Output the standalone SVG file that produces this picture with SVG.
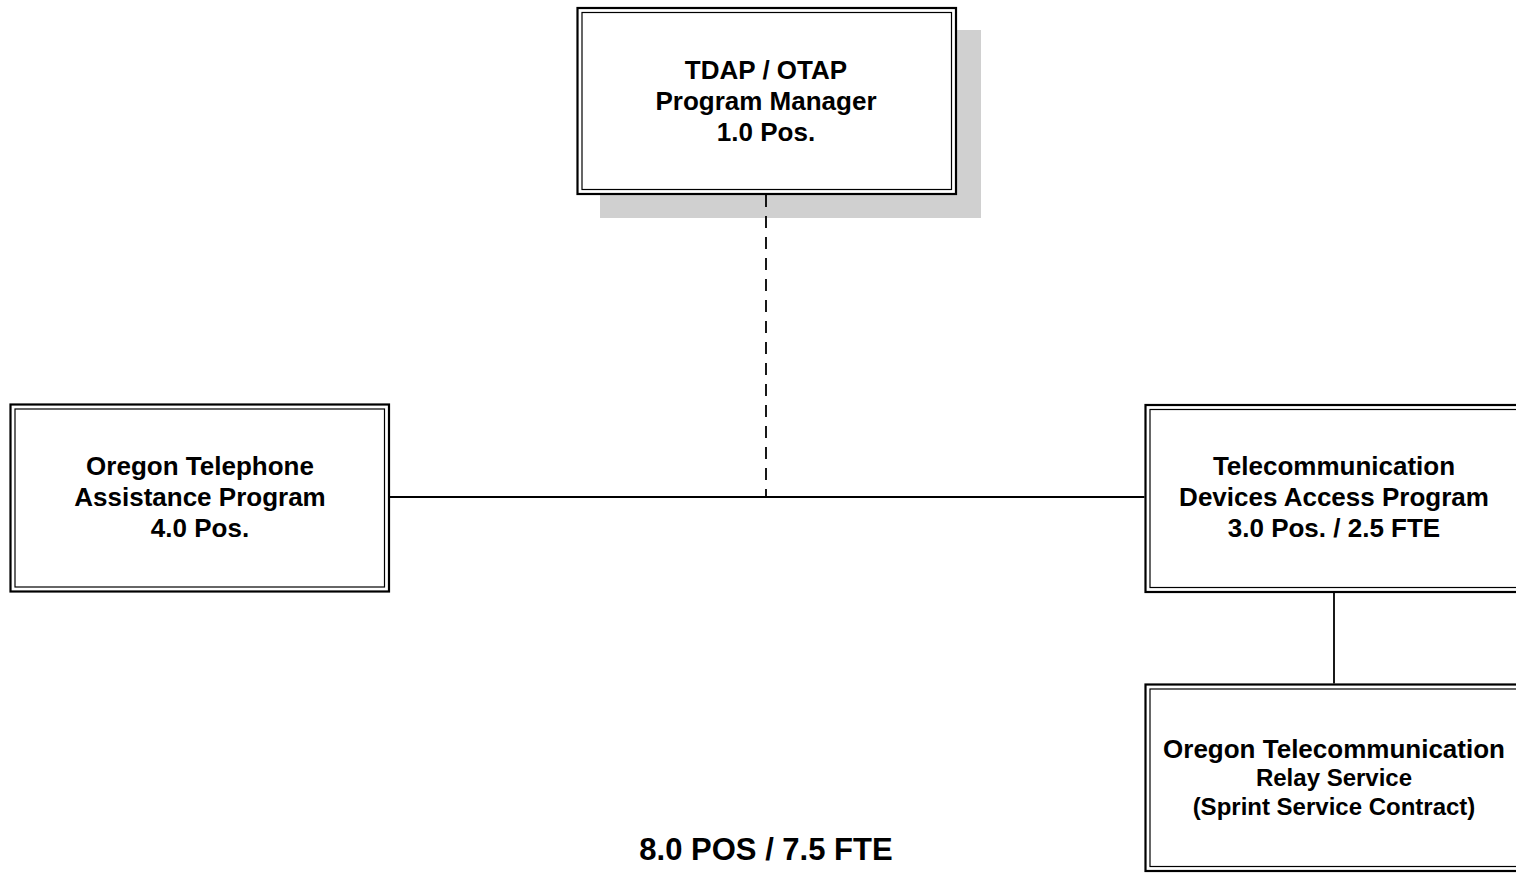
<svg xmlns="http://www.w3.org/2000/svg" width="1516" height="889" viewBox="0 0 1516 889">
<style>
.outer{fill:#fff;stroke:#000;stroke-width:2.2}
.inner{fill:none;stroke:#000;stroke-width:1.2}
.t{font-family:"Liberation Sans",Arial,sans-serif;font-weight:bold;font-size:26px;text-anchor:middle;fill:#000}
.s{font-size:24px}
.c{stroke:#000;stroke-width:1.8;fill:none}
</style>
<rect width="1516" height="889" fill="#fff"/>
<g id="manager">
<rect x="600" y="30" width="381" height="188" fill="#d0d0d0"/>
<rect class="outer" x="577.5" y="8" width="378.5" height="186"/>
<rect class="inner" x="582" y="12.5" width="369.5" height="177"/>
<text class="t" x="766" y="79">TDAP / OTAP</text>
<text class="t" x="766" y="110">Program Manager</text>
<text class="t" x="766" y="141">1.0 Pos.</text>
</g>
<g id="otap">
<rect class="outer" x="10.5" y="404.5" width="378.5" height="187"/>
<rect class="inner" x="15" y="409" width="369.5" height="178"/>
<text class="t" x="200" y="475">Oregon Telephone</text>
<text class="t" x="200" y="506">Assistance Program</text>
<text class="t" x="200" y="537">4.0 Pos.</text>
</g>
<g id="tdap">
<rect class="outer" x="1145.5" y="405" width="378.5" height="187"/>
<rect class="inner" x="1150" y="409.5" width="369.5" height="178"/>
<text class="t" x="1334" y="475">Telecommunication</text>
<text class="t" x="1334" y="506">Devices Access Program</text>
<text class="t" x="1334" y="537">3.0 Pos. / 2.5 FTE</text>
</g>
<g id="relay">
<rect class="outer" x="1145.5" y="684.5" width="378.5" height="186.5"/>
<rect class="inner" x="1150" y="689" width="369.5" height="177.5"/>
<text class="t" x="1334" y="758">Oregon Telecommunication</text>
<text class="t s" x="1334" y="786">Relay Service</text>
<text class="t s" x="1334" y="815">(Sprint Service Contract)</text>
</g>
<g id="connectors">
<line class="c" x1="766" y1="195" x2="766" y2="497" stroke-dasharray="12 9"/>
<line class="c" x1="390" y1="497" x2="1144.5" y2="497"/>
<line class="c" x1="1334" y1="593" x2="1334" y2="683.5"/>
</g>
<g id="total">
<text class="t" x="766" y="860" style="font-size:31px">8.0 POS / 7.5 FTE</text>
</g>
</svg>
